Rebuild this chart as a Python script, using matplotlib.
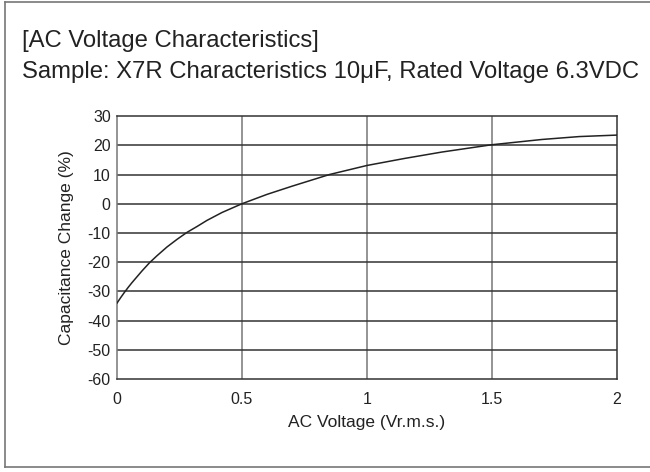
import matplotlib
matplotlib.use("Agg")
import matplotlib.pyplot as plt
from matplotlib.lines import Line2D

plt.rcParams['font.family'] = ['Liberation Sans', 'DejaVu Sans']
plt.rcParams['axes.unicode_minus'] = False

# readings
ac_voltage = [0, 0.015, 0.03, 0.045, 0.06, 0.08, 0.1, 0.13, 0.16, 0.2, 0.24,
              0.28, 0.32, 0.36, 0.42, 0.5, 0.6, 0.7, 0.85, 1.0, 1.15, 1.3,
              1.5, 1.7, 1.85, 2.0]
cap_change = [-34, -32.1, -30.3, -28.6, -27, -25, -23, -20.2, -17.8, -14.8,
              -12.2, -9.8, -7.8, -5.7, -3.0, 0, 3.2, 6, 10, 13.1, 15.5, 17.7,
              20.2, 22, 23, 23.5]

x_ticks = [0, 0.5, 1, 1.5, 2]
x_tick_labels = ['0', '0.5', '1', '1.5', '2']
y_ticks = [30, 20, 10, 0, -10, -20, -30, -40, -50, -60]

title1 = '[AC Voltage Characteristics]'
title2 = 'Sample: X7R Characteristics 10μF, Rated Voltage 6.3VDC'

fig = plt.figure(figsize=(6.5, 4.72), dpi=100)
ax = fig.add_axes([0.18, 0.197, 0.769, 0.557])

ax.plot(ac_voltage, cap_change, color='#222222', lw=1.1, zorder=3)

ax.set_xlim(0, 2)
ax.set_ylim(-60, 30)
ax.set_xticks(x_ticks)
ax.set_xticklabels(x_tick_labels)
ax.set_yticks(y_ticks)
ax.tick_params(length=0, labelsize=11.5, colors='#222222')
ax.tick_params(axis='y', pad=4.5)
ax.tick_params(axis='x', pad=9)

for v in x_ticks[1:-1]:
    ax.axvline(v, color='#777777', lw=1.1, zorder=1)
for v in y_ticks[1:-1]:
    ax.axhline(v, color='#333333', lw=1.1, zorder=1)
for s in ax.spines.values():
    s.set_color('#333333')
    s.set_linewidth(1.1)
ax.spines['left'].set_color('#777777')

ax.set_xlabel('AC Voltage (Vr.m.s.)', fontsize=12.5, color='#222222', labelpad=6)
ax.set_ylabel('Capacitance Change (%)', fontsize=12.5, color='#222222', labelpad=10)

fig.text(0.034, 0.900, title1, fontsize=17.2, color='#222222', va='baseline')
fig.text(0.034, 0.835, title2, fontsize=17.2, color='#222222', va='baseline')

# outer frame (right side runs off the picture)
frame_c = '#777777'
fig.add_artist(Line2D([0.008, 1.0], [0.995, 0.995], color=frame_c, lw=1.2))
fig.add_artist(Line2D([0.008, 1.0], [0.011, 0.011], color=frame_c, lw=1.2))
fig.add_artist(Line2D([0.008, 0.008], [0.011, 0.995], color=frame_c, lw=1.2))

fig.savefig('out.png', dpi=100)
